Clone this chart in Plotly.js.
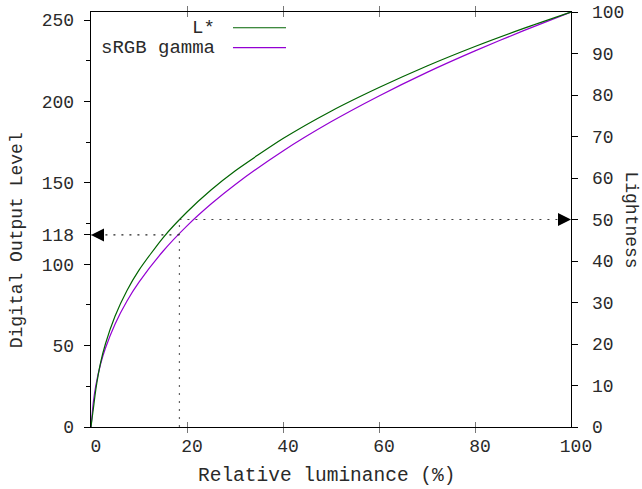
<!DOCTYPE html>
<html>
<head>
<meta charset="utf-8">
<script src="https://cdn.plot.ly/plotly-3.0.1.min.js"></script>
<style>html,body{margin:0;padding:0;background:#fff}#chart{width:642px;height:489px}</style>
</head>
<body>
<div id="chart"></div>
<script>
// Relative luminance (%) sample positions
const luminance = [0, 0.25, 0.5, 1, 2, 3, 5, 7.5, 10, 15, 20, 25, 30, 40, 50, 60, 70, 80, 90, 100];
// L* lightness (0-100, right axis)
const lightness = [0, 2.3, 4.5, 9.0, 15.5, 20.0, 26.7, 32.9, 37.8, 45.6, 51.8, 57.1, 61.7, 69.5, 76.1, 81.8, 87.0, 91.7, 96.0, 100];
// sRGB gamma digital output level (0-255, left axis)
const srgbLevel = [0, 8.1, 15.6, 25.5, 38.7, 48.4, 63.2, 77.4, 89.0, 108.0, 123.6, 137.0, 148.9, 169.6, 187.5, 203.4, 217.9, 231.1, 243.4, 255];
const seriesNames = ["L*", "sRGB gamma"];
const seriesColors = ["#006400", "#9400d3"];

// Marked example point
const markLum = 18.42;
const markLevel = 118;
const markLight = 50;

// Tick labels
const xTicks = [0, 20, 40, 60, 80, 100];
const yLeftTicks = [0, 50, 100, 118, 150, 200, 250];
const yRightTicks = [0, 10, 20, 30, 40, 50, 60, 70, 80, 90, 100];

const FONT = "Liberation Mono, Courier New, monospace";
const TXT = "#2a2a2a";

const traces = [
  {x: luminance, y: lightness, yaxis: "y2", type: "scatter", mode: "lines",
   line: {color: seriesColors[0], width: 1.2, shape: "spline", smoothing: 0.6}, name: seriesNames[0], hoverinfo: "skip"},
  {x: luminance, y: srgbLevel, yaxis: "y", type: "scatter", mode: "lines",
   line: {color: seriesColors[1], width: 1.2, shape: "spline", smoothing: 0.6}, name: seriesNames[1], hoverinfo: "skip"}
];

const dotDash = "2px,6px";
const shapes = [
  {type: "line", xref: "x", yref: "y", x0: markLum, x1: markLum, y0: 0, y1: markLight * 2.55,
   line: {color: "#666", width: 1.2, dash: dotDash}},
  {type: "line", xref: "x", yref: "y2", x0: markLum, x1: 100, y0: markLight, y1: markLight,
   line: {color: "#444", width: 1.2, dash: dotDash}},
  {type: "line", xref: "x", yref: "y", x0: markLum, x1: 0, y0: markLevel, y1: markLevel,
   line: {color: "#222", width: 1.2, dash: dotDash}},
  // legend samples
  {type: "line", xref: "paper", yref: "paper", x0: 0.2958, x1: 0.40625, y0: 0.962, y1: 0.962,
   line: {color: seriesColors[0], width: 1.2}},
  {type: "line", xref: "paper", yref: "paper", x0: 0.2958, x1: 0.40625, y0: 0.914, y1: 0.914,
   line: {color: seriesColors[1], width: 1.2}}
];

const annotations = [
  // arrowheads
  {x: 0, y: markLevel, xref: "x", yref: "y", ax: 3.0, ay: markLevel, axref: "x", ayref: "y",
   showarrow: true, arrowhead: 2, arrowsize: 2.0, arrowwidth: 1.3, arrowcolor: "#000", text: ""},
  {x: 100, y: markLight, xref: "x", yref: "y2", ax: 97.0, ay: markLight, axref: "x", ayref: "y2",
   showarrow: true, arrowhead: 2, arrowsize: 2.0, arrowwidth: 1.3, arrowcolor: "#000", text: ""},
  // legend text
  {x: 0.2625, y: 0.962, xref: "paper", yref: "paper", xanchor: "right", yanchor: "middle",
   text: seriesNames[0], showarrow: false, font: {family: FONT, size: 19, color: TXT}},
  {x: 0.2625, y: 0.914, xref: "paper", yref: "paper", xanchor: "right", yanchor: "middle",
   text: seriesNames[1], showarrow: false, font: {family: FONT, size: 19, color: TXT}},
  // axis titles
  {x: 0.49, y: -0.118, xref: "paper", yref: "paper", xanchor: "center", yanchor: "middle",
   text: "Relative luminance (%)", showarrow: false, font: {family: FONT, size: 19.5, color: TXT}},
  {x: -0.154, y: 0.45, xref: "paper", yref: "paper", xanchor: "center", yanchor: "middle", textangle: -90,
   text: "Digital Output Level", showarrow: false, font: {family: FONT, size: 18, color: TXT}},
  {x: 1.126, y: 0.499, xref: "paper", yref: "paper", xanchor: "center", yanchor: "middle", textangle: 90,
   text: "Lightness", showarrow: false, font: {family: FONT, size: 18, color: TXT}}
];

const layout = {
  width: 642, height: 489,
  margin: {l: 91, r: 71, t: 12, b: 62, pad: 0},
  paper_bgcolor: "#fff", plot_bgcolor: "#fff",
  showlegend: false,
  font: {family: FONT, size: 18, color: TXT},
  xaxis: {range: [0, 100], tickmode: "array", tickvals: xTicks, ticks: "inside", ticklen: 5,
          tickcolor: "#777", tickwidth: 1, mirror: "allticks", showline: true, linecolor: "#000", linewidth: 1.3,
          showgrid: false, zeroline: false, ticklabelshift: 5, ticklabelstandoff: 2,
          tickfont: {family: FONT, size: 18, color: TXT}},
  yaxis: {range: [0, 255], tickmode: "array", tickvals: yLeftTicks, ticks: "outside", ticklen: 6,
          tickcolor: "#000", tickwidth: 1, showline: true, linecolor: "#000", linewidth: 1.3,
          showgrid: false, zeroline: false, ticklabelstandoff: 6,
          minor: {dtick: 25, tick0: 0, ticks: "outside", ticklen: 4, tickcolor: "#000", showgrid: false},
          tickfont: {family: FONT, size: 18, color: TXT}},
  yaxis2: {range: [0, 100], overlaying: "y", side: "right", tickmode: "array", tickvals: yRightTicks,
           ticks: "outside", ticklen: 6, tickcolor: "#000", tickwidth: 1, showline: true, linecolor: "#000",
           linewidth: 1.3, showgrid: false, zeroline: false, ticklabelstandoff: 10,
           tickfont: {family: FONT, size: 18, color: TXT}},
  shapes: shapes,
  annotations: annotations
};

Plotly.newPlot("chart", traces, layout, {displayModeBar: false, staticPlot: true});
</script>
</body>
</html>
